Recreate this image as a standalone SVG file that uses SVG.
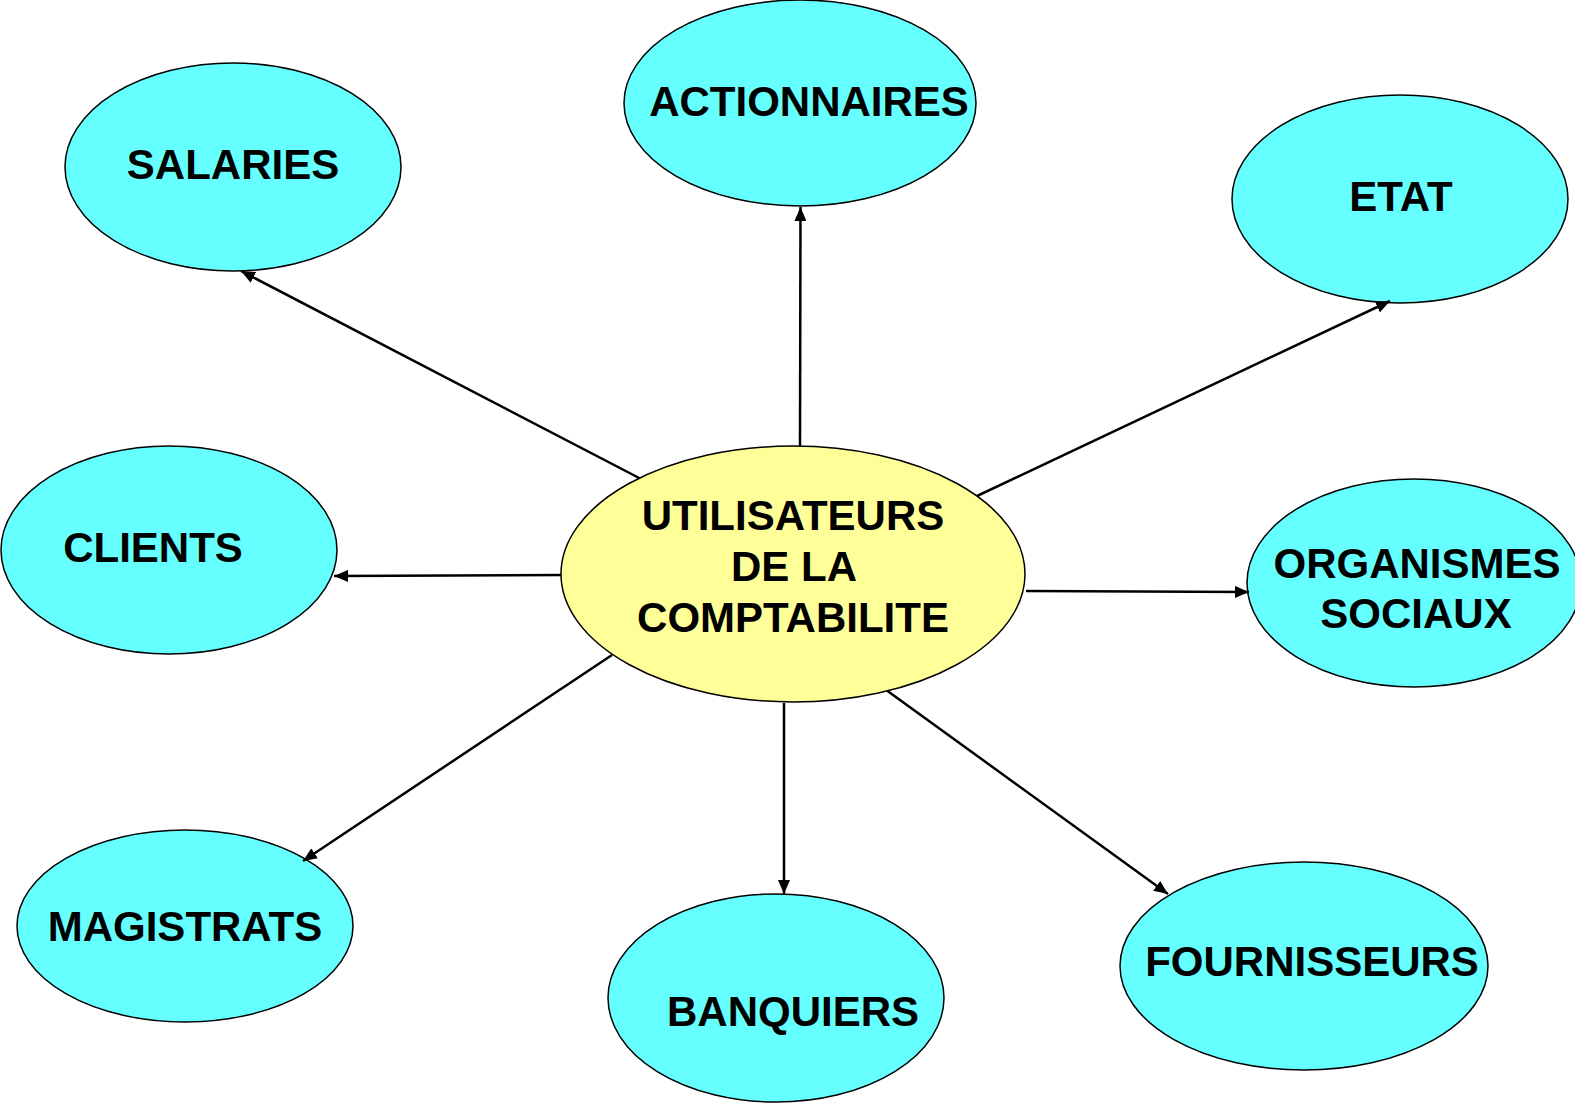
<svg xmlns="http://www.w3.org/2000/svg" width="1575" height="1103" viewBox="0 0 1575 1103">
<style>
.n{fill:#66FFFF;stroke:#000;stroke-width:1.5}
.c{fill:#FFFF99;stroke:#000;stroke-width:1.5}
text{font-family:"Liberation Sans",Arial,sans-serif;font-weight:bold;font-size:42px;text-anchor:middle;fill:#000}
.e line{stroke:#000;stroke-width:2.5;marker-end:url(#a)}
</style>
<defs>
<marker id="a" viewBox="0 0 14 12" refX="14" refY="6" markerWidth="14" markerHeight="12" markerUnits="userSpaceOnUse" orient="auto">
<path d="M0,0L14,6L0,12z" fill="#000"/>
</marker>
</defs>
<rect width="1575" height="1103" fill="#fff"/>
<g id="salaries"><ellipse class="n" cx="233" cy="167" rx="168" ry="104"/><text x="233" y="179">SALARIES</text></g>
<g id="actionnaires"><ellipse class="n" cx="800" cy="103" rx="176" ry="103"/><text x="809" y="116">ACTIONNAIRES</text></g>
<g id="etat"><ellipse class="n" cx="1400" cy="199" rx="168" ry="104"/><text x="1401" y="211">ETAT</text></g>
<g id="clients"><ellipse class="n" cx="169" cy="550" rx="168" ry="104"/><text x="153" y="562">CLIENTS</text></g>
<g id="organismes"><ellipse class="n" cx="1414" cy="583" rx="167" ry="104"/><text x="1417" y="578">ORGANISMES</text><text x="1416" y="628">SOCIAUX</text></g>
<g id="magistrats"><ellipse class="n" cx="185" cy="926" rx="168" ry="96"/><text x="185" y="941">MAGISTRATS</text></g>
<g id="banquiers"><ellipse class="n" cx="776" cy="998" rx="168" ry="104"/><text x="793" y="1026">BANQUIERS</text></g>
<g id="fournisseurs"><ellipse class="n" cx="1304" cy="966" rx="184" ry="104"/><text x="1312" y="976">FOURNISSEURS</text></g>
<g id="connectors" class="e">
<line x1="643" y1="480" x2="241" y2="271"/>
<line x1="800" y1="449" x2="800.5" y2="207"/>
<line x1="977" y1="496" x2="1390" y2="301"/>
<line x1="564" y1="575" x2="334" y2="576"/>
<line x1="1026" y1="591" x2="1249" y2="592"/>
<line x1="612" y1="655" x2="303" y2="861"/>
<line x1="784" y1="703" x2="784" y2="894"/>
<line x1="882" y1="687" x2="1168" y2="894"/>
</g>
<g id="center"><ellipse class="c" cx="793" cy="574" rx="232" ry="128"/><text x="793" y="530">UTILISATEURS</text><text x="794" y="581">DE LA</text><text x="793" y="632">COMPTABILITE</text></g>
</svg>
